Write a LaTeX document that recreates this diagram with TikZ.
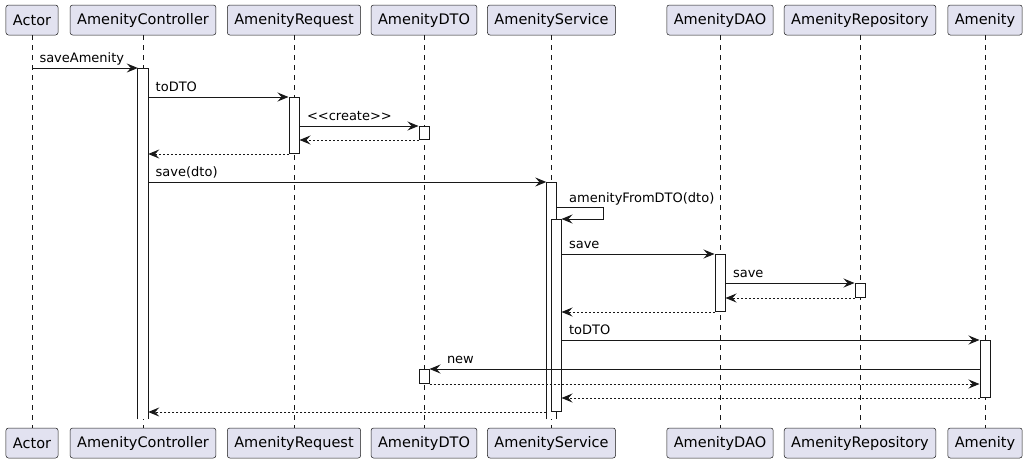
\documentclass[tikz,border=0pt]{standalone}
\usepackage{fontspec}
\setmainfont{DejaVu Sans}[Ligatures=TeXOff]
\usetikzlibrary{arrows.meta}
\definecolor{headfill}{HTML}{E2E2F0}
\definecolor{umlline}{HTML}{181818}

\begin{document}
\begin{tikzpicture}[x=1pt, y=-1pt,
        head/.style={rectangle, rounded corners=2.5pt, draw=umlline, line width=0.5pt,
            fill=headfill, minimum height=30pt, inner xsep=7pt, inner ysep=0pt,
            font=\fontsize{14.5}{17}\selectfont},
        lifeline/.style={draw=umlline, line width=0.5pt, dash pattern=on 5pt off 5pt},
        act/.style={rectangle, draw=umlline, line width=1pt, fill=white,
            minimum width=10pt, inner sep=0pt, anchor=north},
        actopen/.style={rectangle, fill=white, minimum width=10pt, inner sep=0pt, anchor=north},
        actside/.style={draw=umlline, line width=1pt},
        call/.style={-{Stealth[length=11pt, width=9pt, inset=4pt]}, line width=1pt, draw=umlline},
        reply/.style={call, dash pattern=on 2pt off 2pt},
        msg/.style={font=\fontsize{13}{15}\selectfont, inner sep=0pt, anchor=base west,
            xshift=7pt, yshift=6pt},
    ]
        \useasboundingbox (0,0) rectangle (1027,463);

        % Participants (top)
        \node[head] (actor) at (32, 20) {Actor};
        \node[head] (ctl) at (143, 20) {AmenityController};
        \node[head] (req) at (294, 20) {AmenityRequest};
        \node[head] (dto) at (424, 20) {AmenityDTO};
        \node[head] (svc) at (551.5, 20) {AmenityService};
        \node[head] (dao) at (720, 20) {AmenityDAO};
        \node[head] (repo) at (860, 20) {AmenityRepository};
        \node[head] (ent) at (985, 20) {Amenity};

        % Participants (bottom)
        \node[head] (actorF) at (32, 443) {Actor};
        \node[head] (ctlF) at (143, 443) {AmenityController};
        \node[head] (reqF) at (294, 443) {AmenityRequest};
        \node[head] (dtoF) at (424, 443) {AmenityDTO};
        \node[head] (svcF) at (551.5, 443) {AmenityService};
        \node[head] (daoF) at (720, 443) {AmenityDAO};
        \node[head] (repoF) at (860, 443) {AmenityRepository};
        \node[head] (entF) at (985, 443) {Amenity};

        % Lifelines
        \draw[lifeline] (actor) -- (actorF);
        \draw[lifeline] (ctl) -- (ctlF);
        \draw[lifeline] (req) -- (reqF);
        \draw[lifeline] (dto) -- (dtoF);
        \draw[lifeline] (svc) -- (svcF);
        \draw[lifeline] (dao) -- (daoF);
        \draw[lifeline] (repo) -- (repoF);
        \draw[lifeline] (ent) -- (entF);

        % Activations
        \node[actopen, minimum height=351pt] (ctlA) at (143, 68) {};
        \draw[actside] (ctlA.south west) -- (ctlA.north west) -- (ctlA.north east) -- (ctlA.south east);
        \node[act, minimum height=56pt] (reqA) at (294, 97) {};
        \node[act, minimum height=13pt] (dtoA1) at (424, 126) {};
        \node[actopen, minimum height=237pt] (svcA) at (551.5, 182) {};
        \draw[actside] (svcA.south west) -- (svcA.north west) -- (svcA.north east) -- (svcA.south east);
        \node[act, minimum height=192pt] (svcB) at (556, 219) {};
        \node[act, minimum height=57pt] (daoA) at (720, 254) {};
        \node[act, minimum height=14pt] (repoA) at (860, 283) {};
        \node[act, minimum height=57pt] (entA) at (985, 340) {};
        \node[act, minimum height=14pt] (dtoA2) at (424, 369) {};
        \coordinate (loop) at (603, 207);

        % Messages
        \draw[call] (actor |- ctlA.north) -- node[msg, pos=0] {saveAmenity} (ctlA.north west);
        \draw[call] (ctlA.east |- reqA.north) -- node[msg, pos=0] {toDTO} (reqA.north west);
        \draw[call] (reqA.east |- dtoA1.north) -- node[msg, pos=0] {<<create>>} (dtoA1.north west);
        \draw[reply] (dtoA1.south west) -- (reqA.east |- dtoA1.south);
        \draw[reply] (reqA.south west) -- (ctlA.east |- reqA.south);
        \draw[call] (ctlA.east |- svcA.north) -- node[msg, pos=0] {save(dto)} (svcA.north west);
        \draw[call] (svcA.east |- loop) node[msg, xshift=5pt, yshift=-1pt] {amenityFromDTO(dto)}
            -- (loop) -- (loop |- svcB.north) -- (svcB.north east);
        \draw[call] (svcB.east |- daoA.north) -- node[msg, pos=0] {save} (daoA.north west);
        \draw[call] (daoA.east |- repoA.north) -- node[msg, pos=0] {save} (repoA.north west);
        \draw[reply] (repoA.south west) -- (daoA.east |- repoA.south);
        \draw[reply] (daoA.south west) -- (svcB.east |- daoA.south);
        \draw[call] (svcB.east |- entA.north) -- node[msg, pos=0] {toDTO} (entA.north west);
        \draw[call] (entA.west |- dtoA2.north) -- node[msg, pos=1, xshift=10pt] {new} (dtoA2.north east);
        \draw[reply] (dtoA2.south east) -- (entA.west |- dtoA2.south);
        \draw[reply] (entA.south west) -- (svcB.east |- entA.south);
        \draw[reply] (svcA.west |- svcB.south) -- (ctlA.east |- svcB.south);
    \end{tikzpicture}
\end{document}
